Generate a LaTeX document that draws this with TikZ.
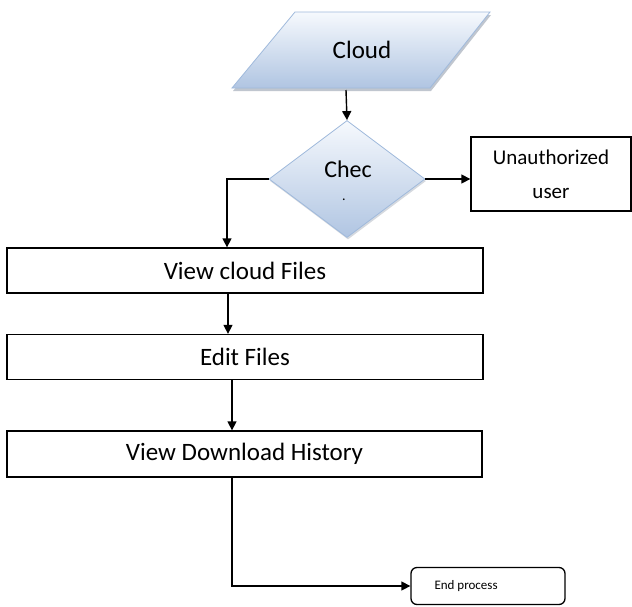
\documentclass[tikz,border=0pt]{standalone}
\usepackage{fontspec}
\setmainfont{Carlito}
\usetikzlibrary{shapes.geometric,arrows.meta,shadows}
\definecolor{shlight}{RGB}{246,249,253}
\definecolor{shdark}{RGB}{176,197,226}
\definecolor{shedge}{RGB}{160,186,220}
\definecolor{shshadow}{RGB}{150,160,175}
\tikzset{
  flowline/.style={draw=black, line width=1.4pt, -{Triangle[length=9pt,width=9pt]}},
  procbox/.style={draw=black, line width=1.3pt, rectangle, inner sep=0pt},
  blueshape/.style={draw=shedge, line width=0.8pt, top color=shlight, bottom color=shdark},
  bigtext/.style={font=\fontsize{25}{30}\selectfont},
}
\begin{document}
\begin{tikzpicture}[x=1pt,y=-1pt]
\useasboundingbox (0,0) rectangle (632,606);
\fill[white] (0,0) rectangle (632,606);
% Cloud parallelogram with shadow
\fill[shshadow!60] (233,91) -- (431,91) -- (491,15) -- (296,15) -- cycle;
\path[blueshape] (232,88) -- (430,88) -- (490,12) -- (295,12) -- cycle;
\node[bigtext] (cloud) at (362,50) {Cloud};
\coordinate (cloudb) at (346,90);
% Check diamond
\node[diamond, blueshape, minimum width=156pt, minimum height=117pt, inner sep=0pt, drop shadow={shadow xshift=1pt, shadow yshift=-2pt, fill=shshadow, opacity=0.4}] (chk) at (347,179) {};
\node[font=\fontsize{24}{28}\selectfont, inner sep=0pt] (chktxt) at (348,169) {Chec};
\node[font=\fontsize{14}{16}\selectfont, inner sep=0pt, anchor=base] (chkdot) at (344,200) {.};
% Unauthorized user
\node[procbox, minimum width=160pt, minimum height=74pt, align=center, font=\fontsize{21}{34}\selectfont] (unauth) at (551,174) {Unauthorized\\user};
% Process boxes
\node[procbox, minimum width=476pt, minimum height=45pt, bigtext] (view) at (245,270.5) {View cloud Files};
\node[procbox, minimum width=476pt, minimum height=45pt, bigtext] (edit) at (245,357) {Edit Files};
\node[procbox, minimum width=475pt, minimum height=46pt, bigtext] (hist) at (244.5,454) {View Download History};
% End process
\node[draw=black, line width=1.3pt, rounded corners=6pt, minimum width=154pt, minimum height=37pt, inner sep=0pt] (endp) at (488,586) {};
\node[font=\fontsize{13}{15}\selectfont, anchor=west] (endtxt) at (431,586) {End process};
% Connectors
\draw[flowline] (cloudb) -- (chk.north);
\draw[flowline] (chk.east) -- (chk.east -| unauth.west);
\draw[flowline] (chk.west) -| (view.north -| 227,0);
\draw[flowline] (view.south -| 228,0) -- (edit.north -| 228,0);
\draw[flowline] (edit.south -| 232,0) -- (hist.north -| 232,0);
\draw[flowline] (hist.south -| 232,0) |- (endp.west);
\end{tikzpicture}
\end{document}
